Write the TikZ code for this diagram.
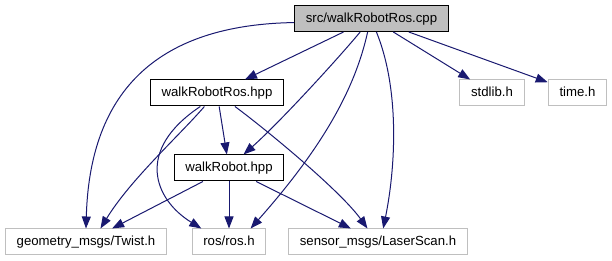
\documentclass[tikz,border=0pt]{standalone}
\usepackage{fontspec}
\setmainfont{Liberation Sans}
\usetikzlibrary{arrows.meta}
\definecolor{edgeblue}{HTML}{191970}
\definecolor{boxgrey}{HTML}{BFBFBF}
\tikzset{filebox/.style={draw=black, fill=white, line width=1pt, inner xsep=11.3pt, inner ysep=0pt,
    minimum height=26pt, text height=10.5pt, text depth=2.5pt, font=\fontsize{13.2}{15}\selectfont}}
\tikzset{srcbox/.style={filebox, fill=boxgrey}}
\tikzset{extbox/.style={filebox, draw=boxgrey}}
\tikzset{incedge/.style={draw=edgeblue, line width=1pt, -{Triangle[length=12pt,width=9pt]}}}

\begin{document}
\begin{tikzpicture}[x=1pt, y=-1pt]
    \useasboundingbox (0,0) rectangle (612,261);
    % files
    \node[srcbox] (src) at (371.5,18.5) {src/walkRobotRos.cpp};
    \node[filebox] (walkros) at (217,93) {walkRobotRos.hpp};
    \node[extbox] (stdlib) at (492,93) {stdlib.h};
    \node[extbox] (timeh) at (577.5,93) {time.h};
    \node[filebox] (walkrob) at (229,168) {walkRobot.hpp};
    \node[extbox] (twist) at (86,242) {geometry\_msgs/Twist.h};
    \node[extbox] (rosh) at (229,242) {ros/ros.h};
    \node[extbox] (scan) at (378,242) {sensor\_msgs/LaserScan.h};
    % includes of the source file
    \draw[incedge] (src) -- (walkros);
    \draw[incedge] (src.230) .. controls +(-25,30) and +(34,-30) .. (walkrob.43);
    \draw[incedge] (src.183) .. controls +(-124,2) and +(4,-149) .. (twist.north);
    \draw[incedge] (src.254) .. controls +(-13,59) and +(70,-79) .. (rosh.32);
    \draw[incedge] (src.290) .. controls +(24,59) and +(12,-59) .. (scan.69);
    \draw[incedge] (src) -- (stdlib);
    \draw[incedge] (src) -- (timeh);
    % includes of walkRobotRos.hpp
    \draw[incedge] (walkros) -- (walkrob);
    \draw[incedge] (walkros.227) .. controls +(-25,29) and +(30,-49) .. (twist.43);
    \draw[incedge] (walkros.219) .. controls +(-66,44) and +(-47,-29) .. (rosh.154);
    \draw[incedge] (walkros.323) .. controls +(26,19) and +(-28,-39) .. (scan.128);
    % includes of walkRobot.hpp
    \draw[incedge] (walkrob) -- (twist);
    \draw[incedge] (walkrob) -- (rosh);
    \draw[incedge] (walkrob) -- (scan);
\end{tikzpicture}
\end{document}
